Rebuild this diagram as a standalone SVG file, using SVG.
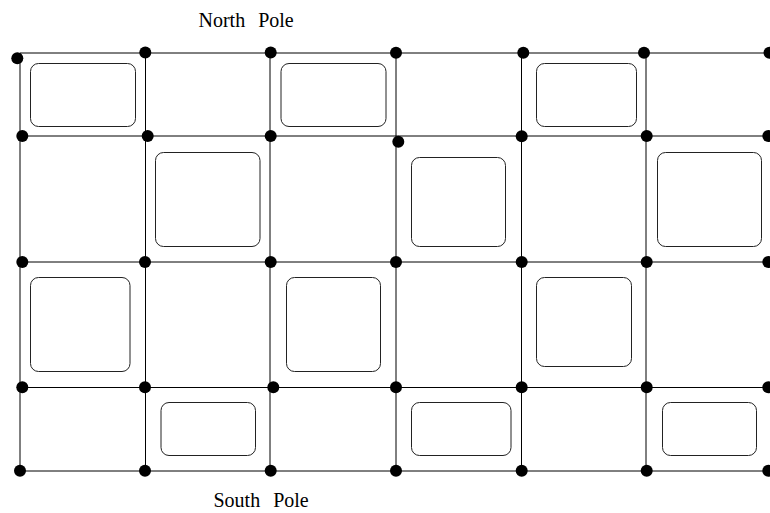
<svg xmlns="http://www.w3.org/2000/svg" width="770" height="513" viewBox="0 0 770 513">
<style>
.e{stroke:#000;stroke-width:1;fill:none}
.f{fill:none;stroke:#222;stroke-width:1}
.d{fill:#000}
.t{font-family:"Liberation Serif","Times New Roman",serif;font-size:20px;fill:#000;word-spacing:8px}
</style>
<rect width="770" height="513" fill="#fff"/>
<text class="t" x="198.5" y="26.5">North Pole</text>
<text class="t" x="213.5" y="506.5">South Pole</text>
<g id="connectors">
<path class="e" d="M20 53H770M20 136H770M20 262H770M20 387.5H770M20 471H770"/>
<path class="e" d="M20 53V471M145.5 53V471M270 53V471M396 53V471M521.5 53V471M646 53V471"/>
</g>
<g id="faces">
<g id="f11"><rect class="f" x="30.5" y="63.5" width="105" height="63" rx="8"/></g>
<g id="f13"><rect class="f" x="281" y="63.5" width="105" height="63" rx="8"/></g>
<g id="f15"><rect class="f" x="536.5" y="63.5" width="100" height="63" rx="8"/></g>
<g id="f22"><rect class="f" x="155.5" y="152.5" width="104.5" height="94" rx="8"/></g>
<g id="f24"><rect class="f" x="411.5" y="157.5" width="94" height="89" rx="8"/></g>
<g id="f26"><rect class="f" x="657.5" y="152.5" width="104" height="94" rx="8"/></g>
<g id="f31"><rect class="f" x="30.5" y="277.5" width="99.5" height="94" rx="8"/></g>
<g id="f33"><rect class="f" x="286.5" y="277.5" width="94" height="94" rx="8"/></g>
<g id="f35"><rect class="f" x="536.5" y="277.5" width="95" height="89" rx="8"/></g>
<g id="f42"><rect class="f" x="161" y="402.5" width="94.5" height="53" rx="8"/></g>
<g id="f44"><rect class="f" x="411.5" y="402.5" width="99.5" height="53" rx="8"/></g>
<g id="f46"><rect class="f" x="662.5" y="402.5" width="94" height="53" rx="8"/></g>
</g>
<g id="nodes">
<g id="n11"><circle class="d" cx="17.3" cy="58.3" r="6"/></g>
<g id="n12"><circle class="d" cx="145.3" cy="52.5" r="6"/></g>
<g id="n13"><circle class="d" cx="270.7" cy="52.5" r="6"/></g>
<g id="n14"><circle class="d" cx="396" cy="52.7" r="6"/></g>
<g id="n15"><circle class="d" cx="523.3" cy="52.7" r="6"/></g>
<g id="n16"><circle class="d" cx="644" cy="52.7" r="6"/></g>
<g id="n17"><circle class="d" cx="769.5" cy="52.7" r="6"/></g>
<g id="n21"><circle class="d" cx="22.3" cy="136" r="6"/></g>
<g id="n22"><circle class="d" cx="147.7" cy="136" r="6"/></g>
<g id="n23"><circle class="d" cx="270.7" cy="136" r="6"/></g>
<g id="n24"><circle class="d" cx="398.3" cy="141.7" r="6"/></g>
<g id="n25"><circle class="d" cx="521.7" cy="136.3" r="6"/></g>
<g id="n26"><circle class="d" cx="646.7" cy="136" r="6"/></g>
<g id="n27"><circle class="d" cx="768.3" cy="136" r="6"/></g>
<g id="n31"><circle class="d" cx="22.3" cy="262" r="6"/></g>
<g id="n32"><circle class="d" cx="145" cy="262" r="6"/></g>
<g id="n33"><circle class="d" cx="270.7" cy="262" r="6"/></g>
<g id="n34"><circle class="d" cx="396" cy="262" r="6"/></g>
<g id="n35"><circle class="d" cx="521.7" cy="262" r="6"/></g>
<g id="n36"><circle class="d" cx="646.7" cy="262" r="6"/></g>
<g id="n37"><circle class="d" cx="768.3" cy="262" r="6"/></g>
<g id="n41"><circle class="d" cx="22.3" cy="387.3" r="6"/></g>
<g id="n42"><circle class="d" cx="145" cy="387.3" r="6"/></g>
<g id="n43"><circle class="d" cx="273.3" cy="387.3" r="6"/></g>
<g id="n44"><circle class="d" cx="396" cy="387.3" r="6"/></g>
<g id="n45"><circle class="d" cx="521.7" cy="387.3" r="6"/></g>
<g id="n46"><circle class="d" cx="646.7" cy="387.3" r="6"/></g>
<g id="n47"><circle class="d" cx="768.3" cy="387.3" r="6"/></g>
<g id="n51"><circle class="d" cx="20" cy="470.7" r="6"/></g>
<g id="n52"><circle class="d" cx="145" cy="470.7" r="6"/></g>
<g id="n53"><circle class="d" cx="270.7" cy="470.7" r="6"/></g>
<g id="n54"><circle class="d" cx="396" cy="470.7" r="6"/></g>
<g id="n55"><circle class="d" cx="521.7" cy="470.7" r="6"/></g>
<g id="n56"><circle class="d" cx="646.7" cy="470.7" r="6"/></g>
<g id="n57"><circle class="d" cx="768.3" cy="470.7" r="6"/></g>
</g>
</svg>
